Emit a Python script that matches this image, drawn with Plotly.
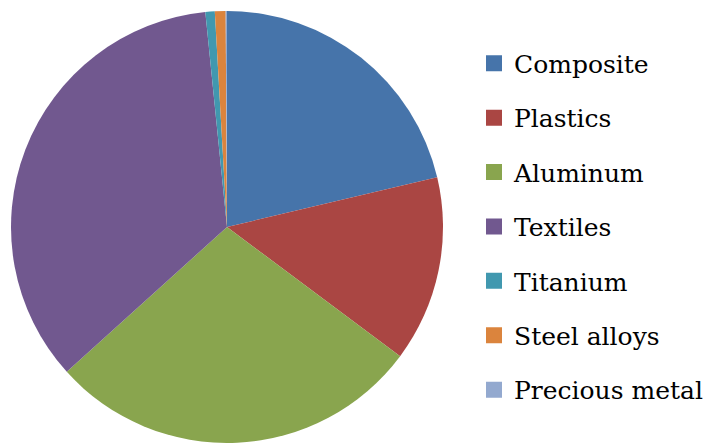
import plotly.graph_objects as go

labels = ["Composite", "Plastics", "Aluminum", "Textiles", "Titanium", "Steel alloys", "Precious metal"]
values = [21.3, 13.9, 28.1, 35.1, 0.7, 0.8, 0.1]
colors = ["#4674AA", "#AA4643", "#89A54E", "#71588F", "#4198AF", "#DB843D", "#93A9CF"]

W, H = 716, 443
FONT = "DejaVu Serif"
fig = go.Figure()
fig.add_trace(go.Pie(
    labels=labels, values=values, sort=False, direction="clockwise", rotation=0,
    marker=dict(colors=colors, line=dict(width=0)),
    textinfo="none", hoverinfo="label+percent", showlegend=False,
    domain=dict(x=[11 / W, 443 / W], y=[0, 1 - 11 / H]),
))
for lab, col in zip(labels, colors):
    fig.add_trace(go.Scatter(
        x=[None], y=[None], mode="markers", name=lab, legendgroup=lab,
        marker=dict(symbol="square", size=17, color=col), showlegend=True,
    ))

fig.update_layout(
    template="none",
    width=W, height=H, margin=dict(l=0, r=0, t=0, b=0),
    font=dict(family=FONT, size=25, color="#000000"),
    paper_bgcolor="white", plot_bgcolor="white",
    xaxis=dict(visible=False), yaxis=dict(visible=False),
    legend=dict(
        x=474 / W, xanchor="left", y=1 - 226.5 / H, yanchor="middle",
        font=dict(family=FONT, size=25, color="#000000"),
        tracegroupgap=18.9, traceorder="grouped", bgcolor="rgba(0,0,0,0)",
    ),
)
fig.write_html("out.html")
